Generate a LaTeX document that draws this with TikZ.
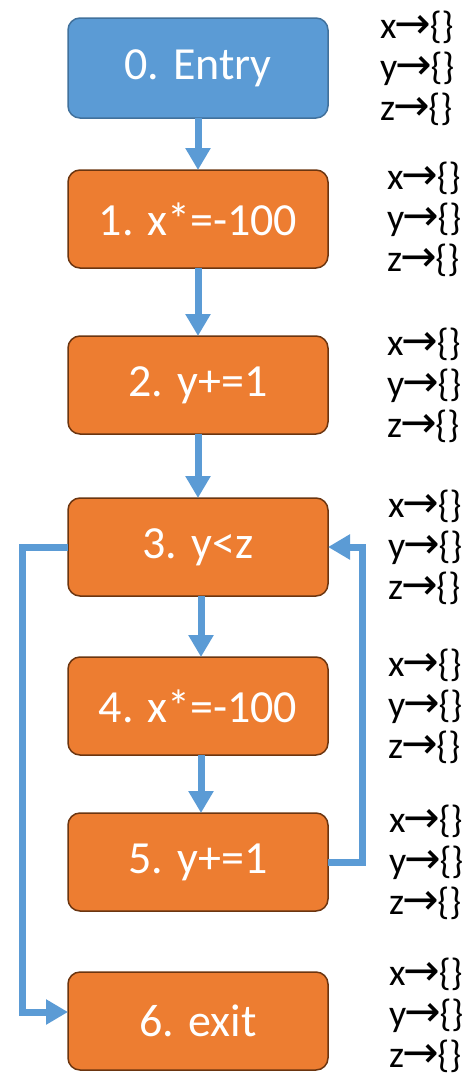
\documentclass[tikz,border=0pt]{standalone}
\usepackage{fontspec}
\setmainfont{Carlito}
\newfontfamily\arrowfont{DejaVu Sans}[Scale=1.15]
\usepackage{xcolor}
\usepackage{tikz}
\usetikzlibrary{arrows.meta, positioning}
\definecolor{entryblue}{HTML}{5B9BD5}
\definecolor{entryedge}{HTML}{41719C}
\definecolor{blockorange}{HTML}{ED7D31}
\definecolor{blockedge}{HTML}{6B3510}
\definecolor{flowblue}{HTML}{5B9BD5}
\newcommand{\maps}[1]{#1{\arrowfont\hspace{-0.04em}→\hspace{-0.04em}}\{\}}

\begin{document}
\begin{tikzpicture}[
    block/.style={rectangle, draw=blockedge, fill=#1, line width=1.5pt, outer sep=0pt, rounded corners=12pt, minimum width=260pt, minimum height=98pt, text=white, font=\fontsize{46}{50}\selectfont},
    facts/.style={inner sep=0pt, align=left, font=\fontsize{38}{41}\selectfont},
    flow/.style={-{Triangle[width=24pt,length=22pt]}, line width=7pt, color=flowblue},
]
    \useasboundingbox (0,0) rectangle (473pt,-1076pt);

    % Blocks
    \node[block=entryblue, draw=entryedge, minimum height=100pt] (b0) at (198pt,-68pt) {0. Entry};
    \node[block=blockorange, below=52pt of b0] (b1) {1. x*=-100};
    \node[block=blockorange, below=68pt of b1] (b2) {2. y+=1};
    \node[block=blockorange, below=64pt of b2] (b3) {3. y<z};
    \node[block=blockorange, below=61pt of b3] (b4) {4. x*=-100};
    \node[block=blockorange, below=58pt of b4] (b5) {5. y+=1};
    \node[block=blockorange, below=61pt of b5] (b6) {6. exit};

    % Facts beside each block
    \node[facts, right=52pt of b0] (f0) {\maps{x}\\\maps{y}\\\maps{z}};
    \node[facts, right=59pt of b1] (f1) {\maps{x}\\\maps{y}\\\maps{z}};
    \node[facts, right=59pt of b2] (f2) {\maps{x}\\\maps{y}\\\maps{z}};
    \node[facts, right=60pt of b3] (f3) {\maps{x}\\\maps{y}\\\maps{z}};
    \node[facts, right=60pt of b4] (f4) {\maps{x}\\\maps{y}\\\maps{z}};
    \node[facts, right=61pt of b5] (f5) {\maps{x}\\\maps{y}\\\maps{z}};
    \node[facts, right=61pt of b6, yshift=6pt] (f6) {\maps{x}\\\maps{y}\\\maps{z}};

    % Straight flow
    \draw[flow] (b0) -- (b1);
    \draw[flow] (b1) -- (b2);
    \draw[flow] (b2) -- (b3);
    \draw[flow] ([xshift=3pt]b3.south) -- ([xshift=3pt]b4.north);
    \draw[flow] ([xshift=3pt]b4.south) -- ([xshift=3pt]b5.north);

    % Loop back and exit
    \draw[flow] (b5.east) -- ++(34pt,0) |- (b3.east);
    \draw[flow] (b3.west) -- ++(-46pt,0) |- ([yshift=9pt]b6.west);
\end{tikzpicture}
\end{document}
